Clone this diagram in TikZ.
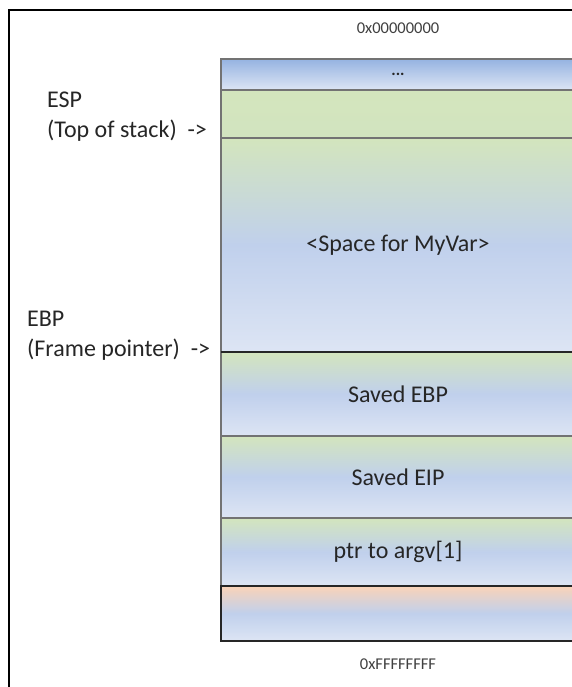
\documentclass[tikz,border=0pt]{standalone}
\usepackage{fontspec}
\setmainfont{Carlito}
\usetikzlibrary{positioning}

\definecolor{cellgreen}{HTML}{D3E5BD}
\definecolor{cellblue}{HTML}{C0D0EC}
\definecolor{celllight}{HTML}{DDE5F4}
\definecolor{cellpeach}{HTML}{FAD3B8}
\definecolor{dotsblue}{HTML}{95B3E1}
\definecolor{textgray}{HTML}{262626}

\begin{document}
\begin{tikzpicture}[x=1pt,
					y=-1pt,
					node distance=0pt,
					cell/.style={draw=black!55,line width=1.5pt,
						minimum width=354pt,inner sep=0pt,outer sep=0pt,
						top color=cellgreen,bottom color=celllight,middle color=cellblue,
						text=textgray,font=\fontsize{24}{30}\selectfont},
					addr/.style={text=black!75,font=\fontsize{16.5}{20}\selectfont},
					reg tag/.style={align=left,inner sep=0pt,anchor=south west,
						text=textgray,font=\fontsize{24}{30}\selectfont}]

  \clip (0,0) rectangle (572,687);
  \fill[white] (0,0) rectangle (572,687);
  \draw[line width=1.3pt] (9,10) rectangle (620,720);

  % the stack, low addresses on top
  \node[cell,minimum height=31pt,top color=dotsblue,bottom color=celllight,
        middle color=dotsblue!50!celllight,font=\fontsize{16.5}{20}\selectfont]
        (dots) at (398,74.5) {\textbf{...}};
  \node[cell,minimum height=48pt,top color=cellgreen,bottom color=cellgreen!95!cellblue]
        (top) [below=of dots] {};
  \node[cell,minimum height=214pt] (myvar) [below=of top] {<Space for MyVar>};
  \node[cell,minimum height=84pt] (sebp) [below=of myvar] {Saved EBP};
  \node[cell,minimum height=82pt] (seip) [below=of sebp] {Saved EIP};
  \node[cell,minimum height=68pt] (argv) [below=of seip] {ptr to argv[1]};
  \node[cell,minimum height=55pt,draw=black!85,line width=2.5pt,
        top color=cellpeach,bottom color=celllight,middle color=cellblue]
        (env) [below=of argv] {};
  \draw[line width=2pt,black!85] (myvar.south west) -- (myvar.south east);

  \node[addr] (low) [above=22pt of dots] {0x00000000};
  \node[addr] (high) [below=14pt of env] {0xFFFFFFFF};

  \node[reg tag] (esp) at (47,142) {ESP\\(Top of stack)\ \ ->};
  \node[reg tag] (ebp) at (27,361) {EBP\\(Frame pointer)\ \ ->};
\end{tikzpicture}
\end{document}
